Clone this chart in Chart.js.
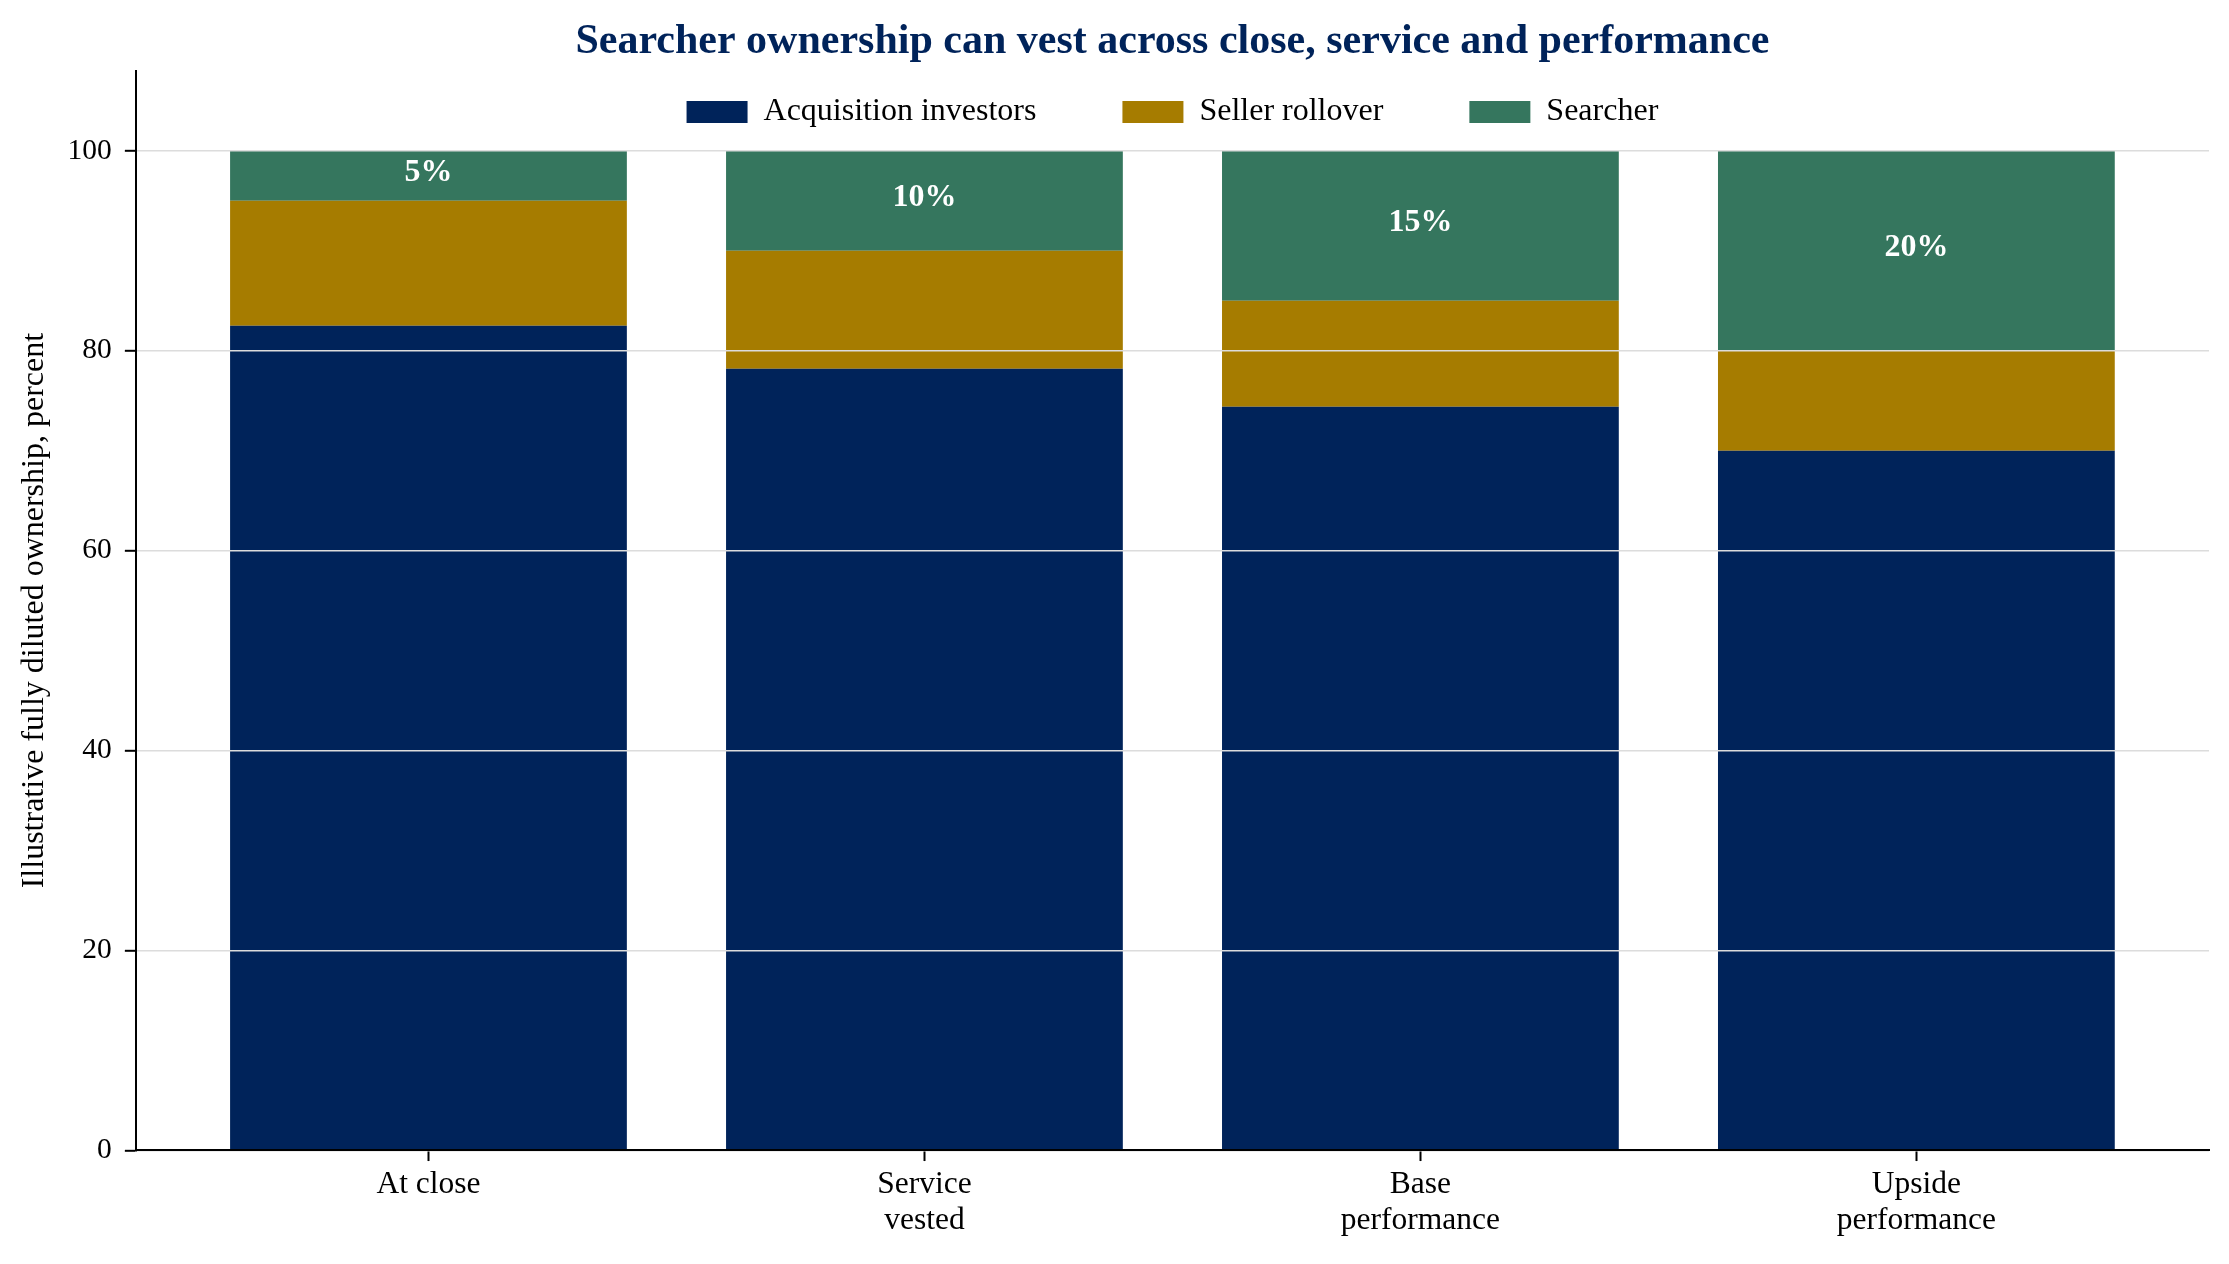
<!DOCTYPE html>
<html>
<head>
<meta charset="utf-8">
<title>Searcher ownership vesting</title>
<script src="https://cdn.jsdelivr.net/npm/chart.js@4.4.0/dist/chart.umd.min.js"></script>
<style>
  html, body { margin: 0; padding: 0; background: #fff; }
  #wrap { width: 2229px; height: 1264px; }
</style>
</head>
<body>
<div id="wrap"><canvas id="ownership"></canvas></div>
<script>
// values (percent of fully diluted ownership)
const categories = ['At close', 'Service\nvested', 'Base\nperformance', 'Upside\nperformance'];
const acquisitionInvestors = [82.5, 78.2, 74.4, 70.0];
const sellerRollover = [12.5, 11.8, 10.6, 10.0];
const searcher = [5, 10, 15, 20];
const yTicks = [0, 20, 40, 60, 80, 100];

const NAVY = '#00235A';
const GOLD = '#A67C00';
const GREEN = '#35765E';

Chart.defaults.font.family = "'Liberation Serif', 'Times New Roman', serif";
Chart.defaults.color = '#000';

const toPoints = (values) => values.map((v, i) => ({ x: i, y: v }));

// white % labels in the middle of the searcher slice
const searcherLabels = {
  id: 'searcherLabels',
  afterDraw(chart) {
    const meta = chart.getDatasetMeta(2);
    const ctx = chart.ctx;
    ctx.save();
    ctx.font = "bold 32px 'Liberation Serif', 'Times New Roman', serif";
    ctx.fillStyle = '#fff';
    ctx.textAlign = 'center';
    ctx.textBaseline = 'middle';
    meta.data.forEach((bar, i) => {
      const { x, y, base } = bar.getProps(['x', 'y', 'base'], true);
      ctx.fillText(searcher[i] + '%', x, (y + base) / 2 - 3);
    });
    ctx.restore();
  }
};

// legend takes no layout space (it sits inside the top of the plot),
// so open its clip box back up after layout
const legendInside = {
  id: 'legendInside',
  afterLayout(chart) {
    const lg = chart.legend;
    if (!lg) return;
    lg.height = 140;
    lg.bottom = lg.top + 140;
  }
};

const createChart = () => {
  const ctx = document.querySelector('#ownership');
  new Chart(ctx, {
    type: 'bar',
    data: {
      datasets: [
        { label: 'Acquisition investors', data: toPoints(acquisitionInvestors), backgroundColor: NAVY, borderWidth: 0 },
        { label: 'Seller rollover', data: toPoints(sellerRollover), backgroundColor: GOLD, borderWidth: 0 },
        { label: 'Searcher', data: toPoints(searcher), backgroundColor: GREEN, borderWidth: 0 }
      ]
    },
    options: {
      responsive: true,
      maintainAspectRatio: false,
      animation: false,
      barPercentage: 0.8,
      categoryPercentage: 1.0,
      layout: { padding: { top: 10, left: 0, right: 20, bottom: 19.5 } },
      plugins: {
        tooltip: { enabled: false },
        title: {
          display: true,
          text: 'Searcher ownership can vest across close, service and performance',
          color: NAVY,
          fullSize: false,
          font: { size: 42, weight: 'bold' },
          padding: { top: 7, bottom: 3.4 }
        },
        legend: {
          position: 'top',
          align: 'center',
          fullSize: false,
          weight: 3000,
          maxHeight: 0.01,
          labels: {
            boxWidth: 61,
            boxHeight: 22,
            padding: 86,
            color: '#000',
            font: { size: 32 }
          }
        }
      },
      scales: {
        x: {
          type: 'linear',
          stacked: true,
          min: -0.59,
          max: 3.59,
          offset: false,
          afterBuildTicks: (scale) => { scale.ticks = categories.map((c, i) => ({ value: i })); },
          grid: { offset: false, drawOnChartArea: false, tickColor: '#000', tickLength: 10.7, tickWidth: 2 },
          border: { color: '#000', width: 2, z: 2 },
          ticks: {
            padding: 5.5,
            autoSkip: false,
            maxRotation: 0,
            color: '#000',
            font: { size: 31.5, lineHeight: 1.15 },
            callback: (v) => (categories[v] !== undefined ? categories[v].split('\n') : '')
          }
        },
        y: {
          stacked: true,
          min: 0,
          max: 108,
          afterBuildTicks: (scale) => { scale.ticks = yTicks.map((v) => ({ value: v })); },
          grid: { color: '#dcdcdc', lineWidth: 1.6, z: 1, tickColor: '#000', tickLength: 11, tickWidth: 2 },
          border: { color: '#000', width: 2, z: 2 },
          ticks: { padding: 13, color: '#000', font: { size: 29.5 } },
          title: {
            display: true,
            text: 'Illustrative fully diluted ownership, percent',
            color: '#000',
            font: { size: 32 },
            padding: { top: 15, bottom: 1.2 }
          }
        }
      }
    },
    plugins: [searcherLabels, legendInside]
  });
};

createChart();
</script>
</body>
</html>
